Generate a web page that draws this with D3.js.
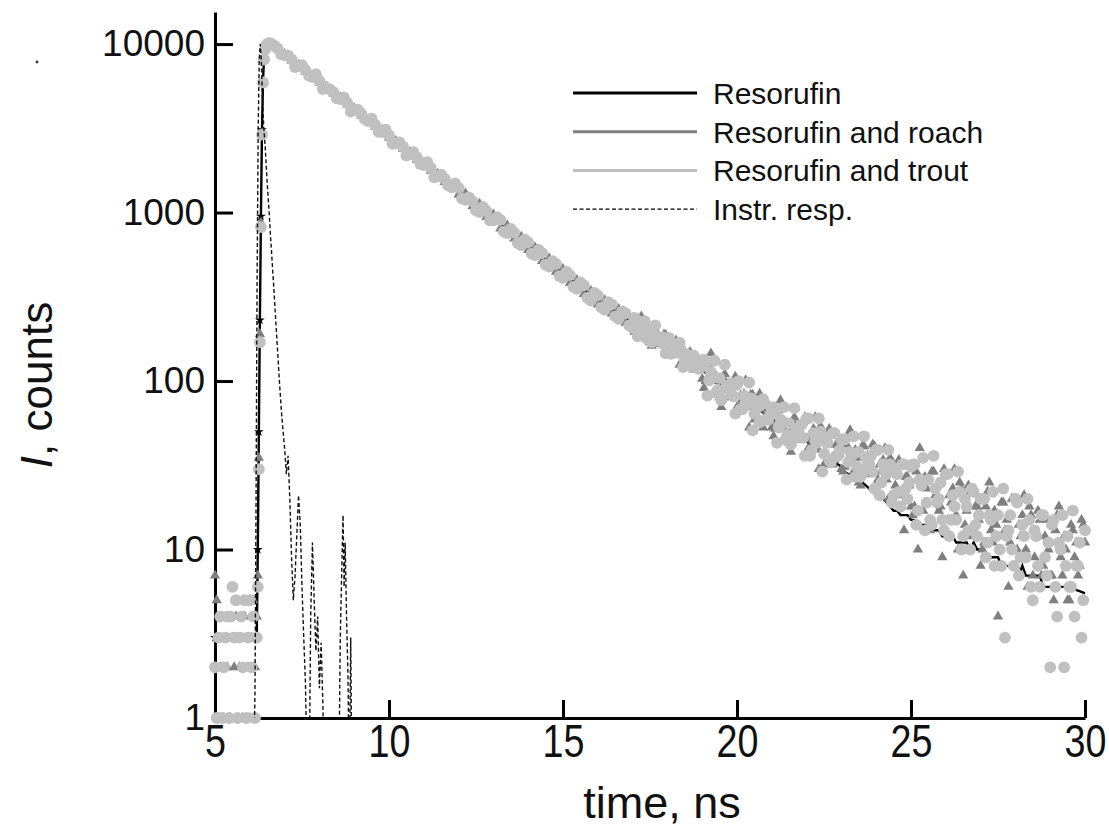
<!DOCTYPE html>
<html><head><meta charset="utf-8">
<script src="https://cdn.jsdelivr.net/npm/d3@7"></script>
<style>html,body{margin:0;padding:0;background:#fff;} svg{display:block;}</style>
</head><body>
<svg id="chart" width="1109" height="834"></svg>
<script>
// ---- time channels (ns) ----
const timePre = [5, 5.05, 5.1, 5.15, 5.2, 5.25, 5.3, 5.35, 5.4, 5.45, 5.5, 5.55, 5.6, 5.65, 5.7, 5.75, 5.8, 5.85, 5.9, 5.95, 6, 6.05, 6.1, 6.15, 6.2];
const timeRise = [6.23, 6.26, 6.29, 6.32, 6.35, 6.38, 6.41, 6.44, 6.47, 6.5, 6.53, 6.56];
const timeDecay = [6.6, 6.8, 7, 7.2, 7.4, 7.6, 7.8, 8, 8.2, 8.4, 8.6, 8.8, 9, 9.2, 9.4, 9.6, 9.8, 10, 10.2, 10.4, 10.6, 10.8, 11, 11.2, 11.4, 11.6, 11.8, 12, 12.2, 12.4, 12.6, 12.8, 13, 13.2, 13.4, 13.6, 13.8, 14, 14.2, 14.4, 14.6, 14.8, 15, 15.2, 15.4, 15.6, 15.8, 16, 16.2, 16.4, 16.6, 16.8, 17];
const timeTail = [
 17.1,17.2,17.3,17.4,17.5,17.6,17.7,17.8,17.9,18,
 18.1,18.2,18.3,18.4,18.5,18.6,18.7,18.8,18.9,19,
 19.1,19.2,19.3,19.4,19.5,19.6,19.7,19.8,19.9,20,
 20.1,20.2,20.3,20.4,20.5,20.6,20.7,20.8,20.9,21,
 21.1,21.2,21.3,21.4,21.5,21.6,21.7,21.8,21.9,22,
 22.1,22.2,22.3,22.4,22.5,22.6,22.7,22.8,22.9,23,
 23.1,23.2,23.3,23.4,23.5,23.6,23.7,23.8,23.9,24,
 24.1,24.2,24.3,24.4,24.5,24.6,24.7,24.8,24.9,25,
 25.1,25.2,25.3,25.4,25.5,25.6,25.7,25.8,25.9,26,
 26.1,26.2,26.3,26.4,26.5,26.6,26.7,26.8,26.9,27,
 27.1,27.2,27.3,27.4,27.5,27.6,27.7,27.8,27.9,28,
 28.1,28.2,28.3,28.4,28.5,28.6,28.7,28.8,28.9,29,
 29.1,29.2,29.3,29.4,29.5,29.6,29.7,29.8,29.9,30];
const time = timePre.concat(timeRise, timeDecay, timeTail);
// in-between channels (scatter series only)
const timeDecayMid = [6.7, 6.9, 7.1, 7.3, 7.5, 7.7, 7.9, 8.1, 8.3, 8.5, 8.7, 8.9, 9.1, 9.3, 9.5, 9.7, 9.9, 10.1, 10.3, 10.5, 10.7, 10.9, 11.1, 11.3, 11.5, 11.7, 11.9, 12.1, 12.3, 12.5, 12.7, 12.9, 13.1, 13.3, 13.5, 13.7, 13.9, 14.1, 14.3, 14.5, 14.7, 14.9, 15.1, 15.3, 15.5, 15.7, 15.9, 16.1, 16.3, 16.5, 16.7, 16.9];
const timeMid = [
 17.05,17.15,17.25,17.35,17.45,17.55,17.65,17.75,17.85,17.95,
 18.05,18.15,18.25,18.35,18.45,18.55,18.65,18.75,18.85,18.95,
 19.05,19.15,19.25,19.35,19.45,19.55,19.65,19.75,19.85,19.95,
 20.05,20.15,20.25,20.35,20.45,20.55,20.65,20.75,20.85,20.95,
 21.05,21.15,21.25,21.35,21.45,21.55,21.65,21.75,21.85,21.95,
 22.05,22.15,22.25,22.35,22.45,22.55,22.65,22.75,22.85,22.95,
 23.05,23.15,23.25,23.35,23.45,23.55,23.65,23.75,23.85,23.95,
 24.05,24.15,24.25,24.35,24.45,24.55,24.65,24.75,24.85,24.95,
 25.05,25.15,25.25,25.35,25.45,25.55,25.65,25.75,25.85,25.95,
 26.05,26.15,26.25,26.35,26.45,26.55,26.65,26.75,26.85,26.95,
 27.05,27.15,27.25,27.35,27.45,27.55,27.65,27.75,27.85,27.95,
 28.05,28.15,28.25,28.35,28.45,28.55,28.65,28.75,28.85,28.95,
 29.05,29.15,29.25,29.35,29.45,29.55,29.65,29.75,29.85,29.95];

// ---- counts ----
const resorufin = [
 3,3,3,3,3,3,3,3,3,3,3,3,3,3,3,3,3,3,3,3,3,3,3,3,3,
 10,50,230,950,3100,6100,8300,9400,9900,10100,10200,10200,
 10100,9370,8690,8060,7480,6940,6440,5980,5550,5150,4780,4430,4110,3820,3540,3290,3050,2830,2620,2440,
 2260,2100,1950,1810,1680,1550,1440,1340,1240,1150,1070,992,920,854,792,735,682,633,587,545,
 506,469,435,404,375,348,323,304,285,268,252,237,223,
 216,209,203,197,191,185,179,174,168,163,
 158,153,149,144,140,135,131,126,121,117,
 112,108,104,100,96,92,89,86,84,81,
 79,76,74,72,70,68,66,64,62,60,
 58,57,55,53,52,50,48,47,45,44,
 42,41,39,38,36,35,34,33,32,31,
 29,28,27,26,26,25,24,23,22,21,
 21,20,19,18,17,17,16,16,16,15,
 15,14,14,14,14,13,13,13,12,12,
 12,12,11,11,11,11,10,11,10,10,
 10,9,9,9,9,8,8,8,8,8,
 7,8,7,7,7,7,7,6,6,6,
 6,6,6,6,6,5.9,5.8,5.7,5.6,5.5];
const roach = [
 7,5,1,2,4,1,3,2,4,1,3,2,4,1,2,3,1,4,3,2,1,3,5,2,4,
 7,35,190,870,2950,6000,8200,9250,9750,9950,10050,10000,
 9900,9300,8750,7950,7550,6850,6500,5900,5600,5080,4830,4370,4160,3760,3580,3230,3090,2780,2660,2390,
 2290,2060,1970,1770,1700,1520,1460,1280,1300,1090,1130,940,975,805,840,700,720,600,620,515,
 535,445,462,382,398,328,342,285,302,252,268,222,236,
 201,232,198,206,170,200,179,166,189,149,
 162,162,144,158,126,137,141,119,126,103,
 100,127,100,107,80,105,89,80,100,70,
 82,84,70,83,59,69,73,58,65,53,
 52,67,53,57,43,58,50,45,57,37,
 48,52,40,54,32,42,48,34,42,30,
 31,47,33,39,25,41,32,28,42,24,
 32,34,26,35,21,28,31,13,27,18,
 18,10,26,27,14,29,21,17,9,13,
 21,23,16,25,7,17,22,13,18,8,
 11,22,13,17,4,19,13,6,20,8,
 14,16,10,18,7,12,15,8,15,7,
 5,16,9,12,5,14,9,7,15,11];
const roachMid = [
 196,227,242,184,197,162,200,185,165,188,
 151,156,174,125,154,131,149,117,128,117,
 91,125,146,87,101,70,110,96,80,106,
 70,78,101,53,83,62,84,53,67,58,
 47,65,77,46,54,38,61,54,45,61,
 40,45,61,30,51,37,52,32,42,37,
 29,42,51,29,35,24,41,36,29,41,
 26,29,40,20,33,24,34,21,27,24,
 16,29,40,17,23,13,29,24,18,30,
 15,19,30,10,23,14,24,12,18,15,
 10,18,25,11,14,8,19,15,11,20,
 10,12,21,6,16,9,17,7,12,10,
 7,13,18,7,10,5,13,11,8,14];
const trout = [
 2,1,3,4,1,2,3,4,1,4,6,3,5,1,3,4,2,5,1,3,5,2,4,1,3,
 6,30,170,820,2900,5900,8100,9300,9800,10000,10100,10100,
 10100,9420,8610,8120,7430,7010,6380,6040,5490,5190,4720,4480,4060,3870,3490,3320,3010,2870,2580,2470,
 2220,2130,1910,1840,1640,1590,1410,1400,1190,1165,1005,1020,900,905,755,760,640,665,560,575,
 478,495,410,425,352,370,300,322,265,285,234,252,207,
 232,202,204,179,199,173,184,174,165,179,
 145,159,147,152,133,138,122,137,118,131,
 128,101,105,85,104,82,93,86,81,95,
 68,82,73,79,64,70,58,74,59,67,
 66,53,56,45,56,45,52,48,46,60,
 36,49,43,50,37,43,33,49,36,45,
 45,33,36,27,38,28,35,32,29,39,
 21,32,28,32,21,28,18,32,20,31,
 32,17,24,13,26,14,23,20,15,28,
 12,21,15,22,12,18,10,22,12,20,
 20,11,15,8,16,8,3,13,10,20,
 7,14,9,15,5,12,6,16,7,2,
 15,4,10,2,12,6,4,8,3,13];
const troutDecayMid = [9800,8700,8550,7300,7500,6490,6630,5410,5390,4760,4830,3970,4080,3600,3610,3010,3110,2560,2610,2180,2280,1940,1990,1620,1680,1450,
 1490,1210,1230,1030,1080,900,940,770,800,660,690,570,600,490,515,420,445,362,385,312,333,274,294,242,259,214];
const troutMid = [
 237,184,213,227,184,170,214,173,182,146,
 180,146,151,169,121,144,123,142,120,121,
 134,82,113,132,89,77,125,85,97,64,
 100,68,75,98,51,76,57,78,59,63,
 70,43,59,70,48,42,69,47,55,36,
 60,39,44,60,29,46,34,49,36,39,
 45,26,38,47,31,27,47,31,36,23,
 39,25,29,39,19,30,22,32,23,25,
 32,14,26,35,19,15,36,19,25,13,
 28,15,18,29,10,20,13,23,14,16,
 20,9,16,22,12,10,23,12,16,8,
 19,9,12,20,6,13,8,16,9,11,
 14,6,11,16,8,6,17,8,11,5];

const timeIRF = [6.1,6.15,6.18,6.21,6.24,6.27,6.3,6.33,6.36,6.4,6.44,6.5,6.55,6.6,6.65,6.7,6.75,6.8,6.85,6.9,
 6.95,7,7.05,7.1,7.15,7.2,7.25,7.3,7.35,7.4,7.45,7.5,7.55,7.6,7.65,7.7,7.75,7.8,7.85,7.9,
 7.95,8,8.05,8.1,8.15,8.2,8.55,8.6,8.65,8.68,8.71,8.74,8.78,8.82,8.86,8.9,8.94,9.0];
const instrResp = [0.3,1.5,20,400,3000,8000,10000,8000,5000,3200,2500,1500,1050,700,480,330,220,150,100,70,
 52,40,28,36,20,9,5,7,12,21,14,6,3,1.6,0.4,0.3,4,11,5,2.5,
 4,1.5,2.8,1.2,0.3,0.2,0.3,3,9,16,6,11,4,1.8,0.4,3,0.3,0.3];

const xTicks = [5, 10, 15, 20, 25, 30];
const yTicks = [1, 10, 100, 1000, 10000];
const legendLabels = ["Resorufin", "Resorufin and roach", "Resorufin and trout", "Instr. resp."];
const legendColors = ["#000000", "#7f7f7f", "#c0c0c0", "#000000"];

// ---- drawing ----
const svg = d3.select("#chart");
const x = d3.scaleLinear().domain([5, 30]).range([215, 1085]);
const y = d3.scaleLog().domain([1, 15500]).range([718, 12]);
const FONT = "'Liberation Sans', Arial, sans-serif";

svg.append("defs").append("clipPath").attr("id", "plotclip").append("rect")
  .attr("x", 215).attr("y", 0).attr("width", 872).attr("height", 718);

function rows(ts, vs) {
  return ts.map((t, i) => ({t: t, v: vs[i]})).filter(d => d.v !== undefined && d.v > 0);
}

// axes
const yAxis = d3.axisLeft(y).tickValues(yTicks).tickFormat(d3.format("d"))
  .tickSizeInner(-18).tickSizeOuter(0).tickPadding(10);
const gy = svg.append("g").attr("transform", "translate(215,0)").call(yAxis);
const xAxis = d3.axisBottom(x).tickValues(xTicks).tickFormat(d3.format("d"))
  .tickSizeInner(-18).tickSizeOuter(0).tickPadding(6);
const gx = svg.append("g").attr("transform", "translate(0,718)").call(xAxis);
[gx, gy].forEach(g => {
  g.select(".domain").attr("stroke", "#000").attr("stroke-width", 3);
  g.selectAll(".tick line").attr("stroke", "#000").attr("stroke-width", 3);
  g.selectAll(".tick text").attr("fill", "#111").style("font-family", FONT);
});
gy.selectAll(".tick text").style("font-size", "37px");
gx.selectAll(".tick text").style("font-size", "46px").attr("transform", "scale(0.82,1)");

// Resorufin (black line; star markers visible on the rising edge)
const blackData = rows(time, resorufin);
svg.append("path").datum(blackData)
  .attr("fill", "none").attr("stroke", "#000").attr("stroke-width", 2.4)
  .attr("d", d3.line().x(d => x(d.t)).y(d => y(d.v)));
svg.append("g").selectAll("path").data(blackData.filter(d => d.t < 7)).join("path")
  .attr("transform", d => `translate(${x(d.t)},${y(d.v)})`)
  .attr("d", d3.symbol().type(d3.symbolStar).size(30)).attr("fill", "#000");

// roach (triangles)
svg.append("g").selectAll("path").data(rows(time, roach).concat(rows(timeMid, roachMid))).join("path")
  .attr("transform", d => `translate(${x(d.t)},${y(d.v)})`)
  .attr("d", d3.symbol().type(d3.symbolTriangle).size(46)).attr("fill", "#7f7f7f");

// trout (circles)
svg.append("g").selectAll("circle")
  .data(rows(time, trout).concat(rows(timeDecayMid, troutDecayMid), rows(timeMid, troutMid))).join("circle")
  .attr("cx", d => x(d.t)).attr("cy", d => y(d.v)).attr("r", 5.9).attr("fill", "#c0c0c0");

// instrument response (dashed)
svg.append("path").datum(rows(timeIRF, instrResp))
  .attr("clip-path", "url(#plotclip)")
  .attr("fill", "none").attr("stroke", "#111").attr("stroke-width", 1.4).attr("stroke-dasharray", "4,2.5")
  .attr("d", d3.line().x(d => x(d.t)).y(d => y(d.v)));

// legend
const lg = svg.append("g");
legendLabels.forEach((lab, i) => {
  const yy = 93 + i * 38.7;
  lg.append("line").attr("x1", 573).attr("x2", 697).attr("y1", yy).attr("y2", yy)
    .attr("stroke", legendColors[i]).attr("stroke-width", i === 3 ? 1.4 : 3)
    .attr("stroke-dasharray", i === 3 ? "4,2.5" : null);
  lg.append("text").attr("x", 713).attr("y", yy).attr("dy", "0.36em")
    .style("font-family", FONT).style("font-size", "30px").attr("fill", "#111").text(lab);
});

// axis titles
svg.append("text").attr("x", 662).attr("y", 818).attr("text-anchor", "middle")
  .style("font-family", FONT).style("font-size", "45px").attr("fill", "#111").text("time, ns");
const yt = svg.append("text").attr("transform", "translate(52,385) rotate(-90)").attr("text-anchor", "middle")
  .style("font-family", FONT).style("font-size", "44px").attr("fill", "#111");
yt.append("tspan").style("font-style", "italic").text("I");
yt.append("tspan").text(", counts");

// small stray mark from the original figure
svg.append("circle").attr("cx", 37).attr("cy", 62).attr("r", 1.4).attr("fill", "#333");
</script>
</body></html>
